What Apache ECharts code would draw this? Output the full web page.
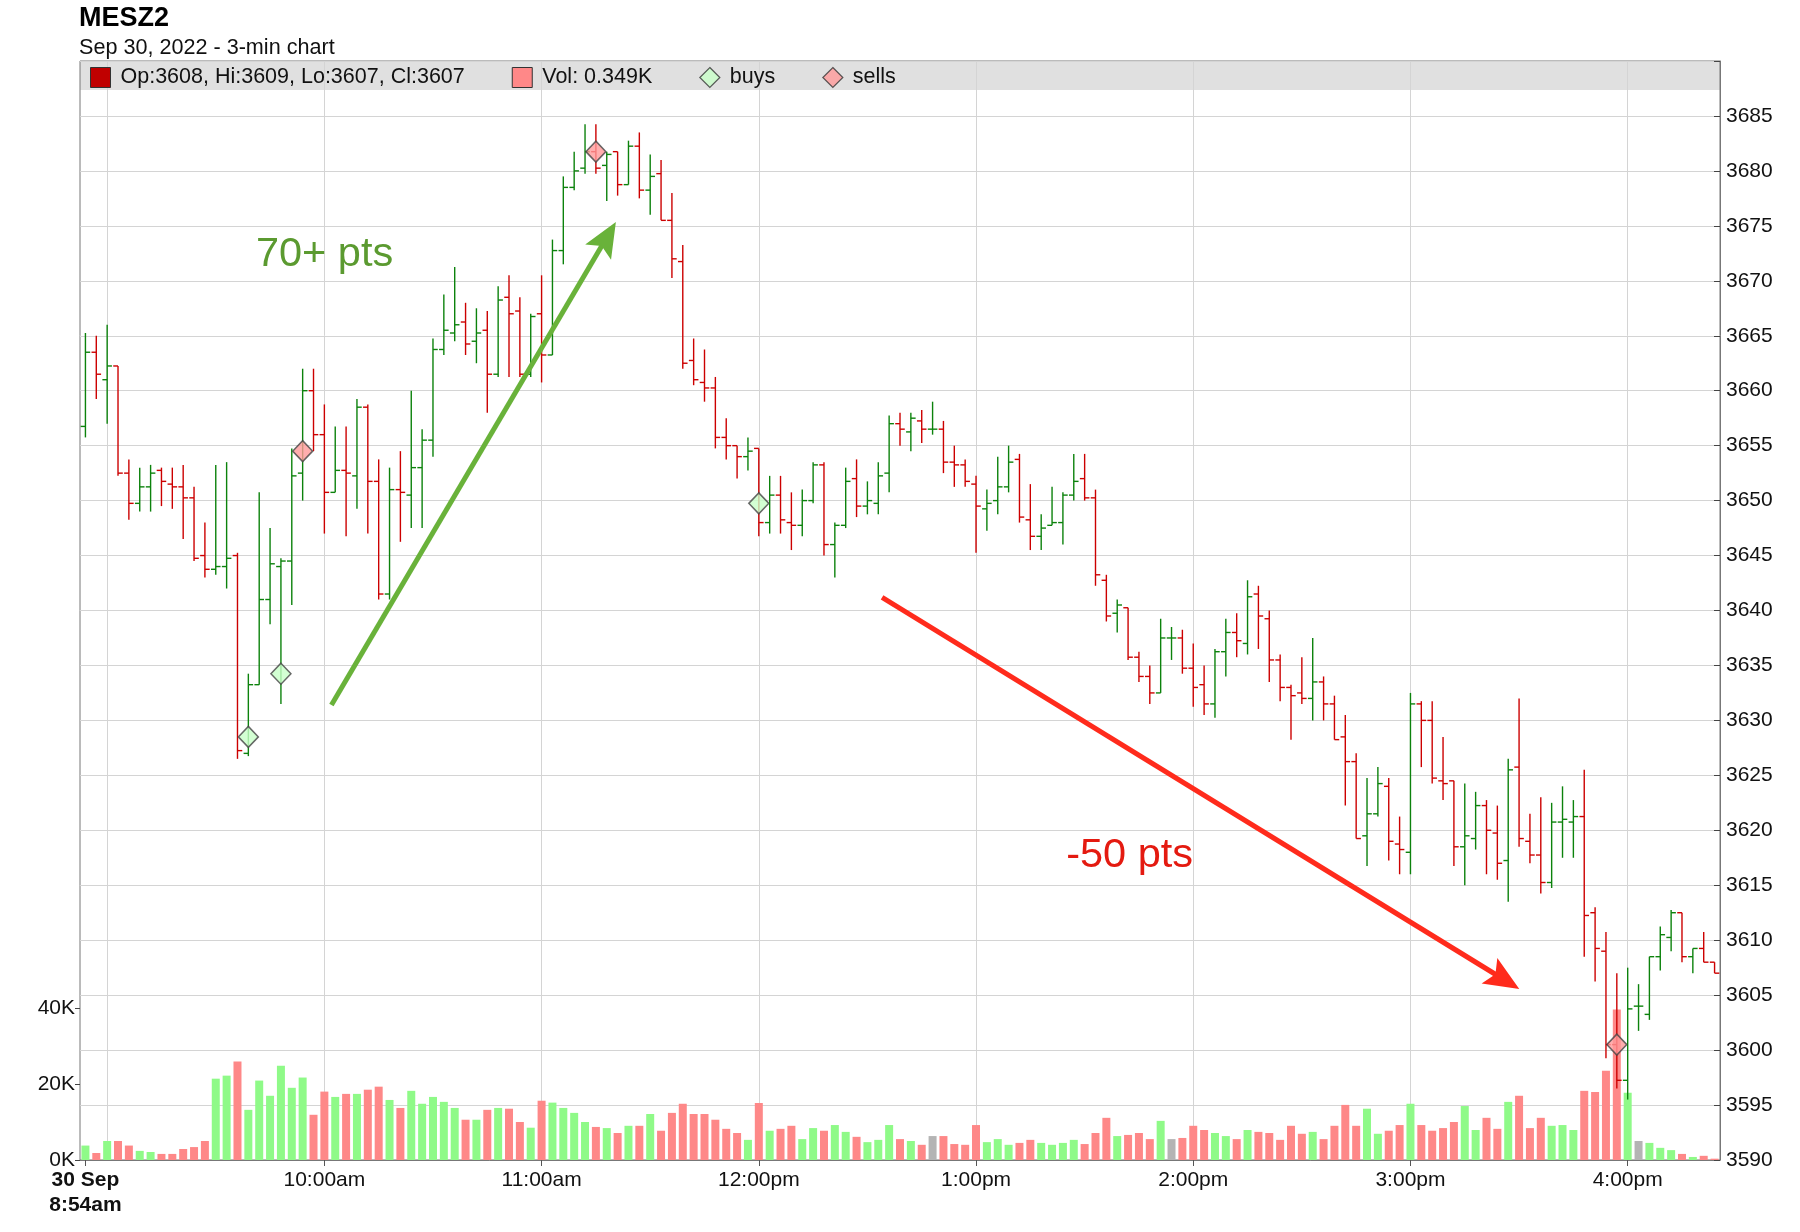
<!DOCTYPE html>
<html>
<head>
<meta charset="utf-8">
<script src="https://cdn.jsdelivr.net/npm/echarts@6/dist/echarts.min.js"></script>
<style>
html,body{margin:0;padding:0;background:#fff;}
#chart{width:1800px;height:1232px;}
</style>
</head>
<body>
<div id="chart"></div>
<script>
// ---------- DATA ----------
const sessionStart = '08:54';
const barMinutes = 3;
const barCount = 151;

const openPrices = [
3656.75,3663.5,3661,3662.25,3652.5,3649.75,3651.25,3652.75,3651.5,3651.25,
3650.25,3645,3643.75,3644,3645,3627,3633.25,3641,3644,3644.5,
3652.5,3660,3656,3650.75,3652.75,3652.25,3658.5,3651.75,3641.5,3651,
3650.5,3653,3655.5,3663.75,3665.25,3666.25,3664.5,3665.5,3661.5,3668.5,
3667.25,3661.5,3667,3663.25,3672.75,3678.5,3680.25,3681.75,3680.5,3681.75,
3678.75,3682.25,3678.25,3679.75,3675.5,3671.75,3662.75,3660.75,3660.25,3655.75,
3655,3654,3654.75,3648,3650.5,3648,3647.75,3650,3653.25,3646,
3647.75,3652,3649.5,3649.75,3652.5,3657,3656.25,3657.25,3656.5,3656.5,
3653.5,3653.25,3651.5,3649.25,3650,3651.25,3653.75,3648.25,3646.75,3647.75,
3648,3650.5,3652,3650.25,3642.75,3639.75,3640.25,3635.75,3634,3632.5,
3637.5,3637.5,3634.75,3633.25,3631.5,3636.25,3638,3637,3641.5,3639.25,
3635.5,3633,3632.5,3632,3633.5,3631.5,3628.5,3626.25,3619.5,3621.5,
3624,3618.75,3618,3631.5,3630,3624.5,3624.5,3618.5,3619.25,3622.25,
3619.75,3617.25,3625.75,3619,3617.75,3615.25,3620.75,3620.75,3621.25,3612.5,
3609,3600.5,3597.25,3604,3603.25,3608.5,3610.25,3612.5,3608.5,3609.25,
3608];

const highPrices = [
3665.25,3665,3666,3662.25,3653.75,3653,3653.25,3653,3653,3653.25,
3651.25,3648,3653.25,3653.5,3645.25,3634.25,3650.75,3647.5,3644.75,3654.75,
3662,3662,3658.75,3656.75,3656.75,3659.25,3658.75,3653.75,3653,3654.5,
3660,3656.5,3664.75,3668.75,3671.25,3668,3667.5,3667.25,3669.5,3670.5,
3668.5,3667,3670.5,3673.75,3679.5,3681.75,3684.25,3684.25,3681.75,3681.75,
3682.75,3683.5,3681.5,3681,3678,3673.25,3664.75,3663.75,3661.25,3657.5,
3655,3655.75,3654.75,3652.25,3652.25,3650.75,3651,3653.5,3653.5,3648,
3653,3653.75,3651.75,3653.5,3657.75,3658,3658,3658.25,3659,3657.25,
3655,3653.75,3652.25,3651,3654,3655,3654.25,3651.5,3648.75,3651.25,
3650.75,3654.25,3654.25,3651,3643.25,3641,3640.25,3636.25,3635,3639.25,
3638.5,3638.25,3637,3635,3636.5,3639.25,3639.75,3642.75,3642.25,3640,
3636,3633.25,3635.75,3637.5,3634,3632.25,3630.5,3627,3624.75,3625.75,
3624.75,3621.25,3632.5,3631.75,3631.75,3628.5,3624.5,3624.25,3623.5,3622.75,
3622.25,3626.5,3632,3621.5,3623,3622.5,3624,3622.75,3625.5,3613,
3610.75,3607,3607.5,3606,3608.5,3611.25,3612.75,3612.5,3609.25,3610.75,
3608];

const lowPrices = [
3655.75,3659.25,3657,3652.25,3648.25,3649,3649,3649.5,3649.25,3646.5,
3644.5,3643,3643.25,3642,3626.5,3626.75,3633.25,3638.75,3631.5,3640.5,
3650,3654.5,3647,3650.75,3646.75,3649.25,3647,3641,3641,3646.25,
3647.5,3647.5,3654,3663.25,3664.5,3663.25,3662.5,3658,3661.25,3661.25,
3661.25,3661.25,3660.75,3663.25,3671.5,3678.25,3679.75,3679.75,3677.25,3677.75,
3678.75,3677.5,3676,3675.5,3670.25,3662,3660.5,3659,3654.75,3653.75,
3652,3652.75,3646.75,3647,3647,3645.5,3646.75,3649.75,3645,3643,
3647.5,3648.5,3648.75,3648.75,3650.75,3655,3654.5,3655.25,3656,3652.5,
3651.25,3651.25,3645.25,3647.25,3648.75,3650.75,3648,3645.5,3645.5,3647.75,
3646,3650,3650,3642.25,3639,3638,3635.5,3633.5,3631.5,3632.5,
3635.5,3634.25,3631.25,3630.5,3630.25,3634,3635.75,3636,3636.5,3633.5,
3631.75,3628.25,3631.5,3630,3630,3628.25,3622.25,3619.25,3616.75,3621.25,
3617.25,3616,3616,3625.75,3624.25,3622.75,3616.75,3615,3618.25,3616,
3615.5,3613.5,3618.5,3617,3614.25,3614.75,3617.5,3617.5,3608.5,3606.25,
3599.25,3596.5,3595.5,3601.75,3602.75,3607.25,3609,3608,3607,3608,
3607];

const closePrices = [
3663.5,3661.5,3662.25,3652.5,3649.75,3651.25,3652.5,3651.75,3651.25,3650.25,
3644.75,3643.75,3644,3644.75,3627.25,3633.25,3641,3644.25,3644.5,3652.25,
3660,3656,3650.75,3652.75,3652.5,3658.5,3651.75,3641.5,3651,3650.75,
3653,3655.5,3663.75,3665.5,3666,3664.25,3665.25,3661.5,3668.25,3667,
3661.5,3666.75,3663.25,3672.75,3678.5,3680,3681.75,3680.25,3681.5,3678.75,
3682.25,3678.25,3679.5,3675.5,3672,3662.5,3661,3660.25,3655.75,3655,
3654,3654.5,3648,3650.5,3648.25,3647.75,3650,3653.25,3646,3647.75,
3651.75,3649.5,3650,3652.25,3657,3656.5,3657.5,3656.5,3656.5,3653.5,
3653.25,3651.75,3649.5,3649.75,3651.25,3653.5,3648.5,3646.75,3647.5,3648,
3650.5,3651.75,3650.25,3643.25,3639.5,3640.5,3635.75,3634,3632.5,3637.5,
3637.5,3634.75,3633,3631.5,3636.25,3638,3637.25,3641.25,3639.5,3635.5,
3633,3632.25,3632,3633.5,3631.5,3628.25,3626.25,3619.25,3621.5,3624.25,
3619,3618.25,3631.5,3630,3624.75,3624.25,3618.5,3619.5,3622.25,3620,
3617,3625.5,3619.25,3617.75,3615.25,3620.75,3621,3621.25,3612.25,3609.25,
3600.5,3597.25,3603.75,3604,3608.5,3610.5,3612.5,3608.5,3609.25,3608,
3607];

// volume in thousands of contracts
const volumeK = [
3.8,1.85,5.0,5.0,3.8,2.4,2.1,1.6,1.6,2.9,3.4,5.0,21.4,22.2,25.9,13.2,20.9,16.9,24.8,19.0,
21.7,11.9,18.0,16.6,17.4,17.4,18.5,19.3,15.8,13.7,18.2,14.8,16.6,15.3,13.7,10.6,10.6,13.2,13.7,13.5,
10.0,8.5,15.6,15.1,13.7,12.4,10.0,8.7,8.4,7.1,9.0,9.0,12.1,7.7,12.4,14.8,12.1,12.1,10.6,8.2,
7.1,5.3,15.0,7.7,8.2,9.0,5.5,8.4,7.7,9.2,7.4,6.1,4.7,5.3,9.2,5.5,5.0,4.0,6.3,6.3,
4.2,4.0,9.2,4.7,5.5,4.0,4.5,5.3,4.5,4.0,4.5,5.3,4.2,7.1,11.1,6.3,6.6,7.1,5.5,10.3,
5.5,5.8,9.0,7.9,7.1,6.3,5.5,7.9,7.4,7.1,5.3,9.0,6.9,7.4,5.5,9.0,14.5,9.0,13.5,6.9,
7.7,9.2,14.8,9.2,7.7,8.4,10.0,14.2,7.9,11.1,8.2,15.3,16.9,8.4,11.1,9.0,9.2,7.9,18.2,17.9,
23.5,39.6,17.7,5.0,4.5,3.2,2.6,1.6,0.8,1.1,0.349];

// trade markers: [bar index, price]
const buys = [[15, 3628.5], [18, 3634.25], [62, 3649.75]];
const sells = [[20, 3654.5], [47, 3681.75], [141, 3600.5]];

// axis labels
const labelTimes = ['08:54','10:00','11:00','12:00','13:00','14:00','15:00','16:00'];
const labelTexts = ['{b|30 Sep}\n{b|8:54am}','10:00am','11:00am','12:00pm','1:00pm','2:00pm','3:00pm','4:00pm'];
const gridTimes = ['09:00','10:00','11:00','12:00','13:00','14:00','15:00','16:00'];

const titleText = 'MESZ2';
const subtitleText = 'Sep 30, 2022 - 3-min chart';
const legendNames = ['Op:3608, Hi:3609, Lo:3607, Cl:3607', 'Vol: 0.349K', 'buys', 'sells'];

// annotations (data coordinates: bar index, price)
const arrowFrom = [[22.65, 3631.4], [73.35, 3641.2]];
const arrowTo = [[48.84, 3675.36], [132.02, 3605.56]];
const noteTexts = ['70+ pts', '-50 pts'];
const noteAt = [[15.7, 3672.4], [90.3, 3617.7]];

// ---------- STYLE ----------
const FONT = '"Liberation Sans", Arial, Helvetica, sans-serif';
const UP = '#0c820c', DOWN = '#cc0000';
const VOL_UP = '#8ffa88', VOL_DOWN = '#fe8888', VOL_FLAT = '#b4b4b4';
const arrowColors = ['#69b23a', '#ff2b1c'];
const noteColors = ['#5b9a30', '#e41a10'];

// ---------- BUILD ----------
function hhmm(mins){ const h = Math.floor(mins/60), m = mins%60; return String(h).padStart(2,'0')+':'+String(m).padStart(2,'0'); }
const startMin = parseInt(sessionStart.slice(0,2))*60 + parseInt(sessionStart.slice(3));
const times = [];
for (let i = 0; i < barCount; i++) times.push(hhmm(startMin + barMinutes*i));

const ohlc = times.map((t, i) => [i, openPrices[i], highPrices[i], lowPrices[i], closePrices[i]]);
const volData = volumeK.map((v, i) => {
  const o = openPrices[i], c = closePrices[i];
  const col = c > o ? VOL_UP : (c < o ? VOL_DOWN : VOL_FLAT);
  return { value: v, itemStyle: { color: col } };
});
const labelMap = {};
labelTimes.forEach((t, i) => labelMap[t] = labelTexts[i]);
const isLabel = (idx, val) => labelMap[val] !== undefined;
const isGrid = (idx, val) => gridTimes.indexOf(val) >= 0;

const chart = echarts.init(document.getElementById('chart'), null, { renderer: 'canvas' });

const option = {
  animation: false,
  backgroundColor: '#ffffff',
  textStyle: { fontFamily: FONT },
  title: {
    text: titleText,
    subtext: subtitleText,
    left: 79, top: 5.5, padding: 0, itemGap: 5,
    textStyle: { fontFamily: FONT, fontSize: 27, fontWeight: 'bold', color: '#000' },
    subtextStyle: { fontFamily: FONT, fontSize: 21.6, color: '#111' }
  },
  legend: {
    left: 90, top: 66.5, padding: 0,
    itemWidth: 20, itemHeight: 20, itemGap: 47,
    selectedMode: false,
    textStyle: { fontFamily: FONT, fontSize: 21.5, color: '#111', padding: [0, 0, 0, 5] },
    data: [
      { name: legendNames[0], icon: 'rect', itemStyle: { color: '#c00000', borderColor: '#333', borderWidth: 1 } },
      { name: legendNames[1], icon: 'rect', itemStyle: { color: '#ff8888', borderColor: '#333', borderWidth: 1 } },
      { name: legendNames[2], icon: 'diamond', itemStyle: { color: '#c8ffc8', borderColor: '#333', borderWidth: 1.2 } },
      { name: legendNames[3], icon: 'diamond', itemStyle: { color: '#ff9a9a', borderColor: '#333', borderWidth: 1.2 } }
    ]
  },
  graphic: [
    { type: 'rect', z: -1, shape: { x: 80, y: 61, width: 1640, height: 29 }, style: { fill: '#e0e0e0' } }
  ],
  grid: [
    { left: 80, right: 80, top: 61, bottom: 72, show: true, borderColor: '#777', borderWidth: 1, backgroundColor: 'transparent' },
    { left: 80, right: 80, top: 1008, bottom: 72 }
  ],
  xAxis: [
    {
      type: 'category', gridIndex: 0, data: times, boundaryGap: true,
      axisLine: { show: true, onZero: false, lineStyle: { color: '#777', width: 1 } },
      axisTick: { show: true, interval: isLabel, alignWithLabel: true, length: 6, lineStyle: { color: '#555' } },
      axisLabel: {
        show: true, interval: isLabel, margin: 8, fontSize: 21, color: '#111', lineHeight: 25,
        formatter: v => labelMap[v] || '',
        rich: { b: { fontFamily: FONT, fontSize: 21, fontWeight: 'bold', color: '#111', lineHeight: 25 } }
      },
      splitLine: { show: true, interval: isGrid, alignWithLabel: true, lineStyle: { color: '#d4d4d4', width: 1 } }
    },
    { type: 'category', gridIndex: 1, data: times, boundaryGap: true, show: false, axisLine: { onZero: false } },
    { type: 'value', gridIndex: 0, min: -0.5, max: barCount - 0.5, show: false, axisLine: { onZero: false } }
  ],
  yAxis: [
    {
      type: 'value', gridIndex: 0, position: 'right', min: 3590, max: 3690, interval: 5,
      axisLine: { show: true, onZero: false, lineStyle: { color: '#777' } },
      axisTick: { show: true, inside: true, length: 6, lineStyle: { color: '#444' } },
      axisLabel: { fontSize: 21, color: '#111', margin: 6, formatter: v => (v >= 3690 ? '' : String(v)) },
      splitLine: { show: true, lineStyle: { color: '#d4d4d4', width: 1 } }
    },
    {
      type: 'value', gridIndex: 1, position: 'left', min: 0, max: 40, interval: 20,
      axisLine: { show: false, onZero: false },
      axisTick: { show: true, inside: false, length: 5, lineStyle: { color: '#444' } },
      axisLabel: { fontSize: 21, color: '#111', margin: 5, formatter: v => v + 'K' },
      splitLine: { show: false }
    }
  ],
  series: [
    {
      name: legendNames[1], type: 'bar', xAxisIndex: 1, yAxisIndex: 1,
      data: volData, barWidth: 8, z: 1, silent: true,
      itemStyle: { color: '#ff8888' }
    },
    {
      name: legendNames[0], type: 'custom', xAxisIndex: 0, yAxisIndex: 0, z: 2, silent: true,
      itemStyle: { color: '#c00000' },
      encode: { x: 0, y: [1, 2, 3, 4] },
      data: ohlc,
      renderItem: function (params, api) {
        const idx = api.value(0);
        const o = api.value(1), h = api.value(2), l = api.value(3), c = api.value(4);
        const pH = api.coord([idx, h]), pL = api.coord([idx, l]);
        const pO = api.coord([idx, o]), pC = api.coord([idx, c]);
        const w = api.size([1, 0])[0] * 0.44;
        const col = c >= o ? UP : DOWN;
        const x = pH[0];
        const st = { stroke: col, lineWidth: 1.4 };
        return {
          type: 'group', children: [
            { type: 'line', shape: { x1: x, y1: pH[1], x2: x, y2: pL[1] }, style: st },
            { type: 'line', shape: { x1: x - w, y1: pO[1], x2: x, y2: pO[1] }, style: st },
            { type: 'line', shape: { x1: x, y1: pC[1], x2: x + w, y2: pC[1] }, style: st }
          ]
        };
      }
    },
    {
      name: legendNames[2], type: 'scatter', xAxisIndex: 0, yAxisIndex: 0, z: 3, silent: true,
      symbol: 'diamond', symbolSize: [20, 21],
      itemStyle: { color: '#c8ffc8', borderColor: '#444', borderWidth: 1.5 },
      data: buys
    },
    {
      name: legendNames[3], type: 'scatter', xAxisIndex: 0, yAxisIndex: 0, z: 3, silent: true,
      symbol: 'diamond', symbolSize: [20, 21],
      itemStyle: { color: '#ff9a9a', borderColor: '#444', borderWidth: 1.5 },
      data: sells
    },
    {
      name: 'arrows', type: 'custom', xAxisIndex: 2, yAxisIndex: 0, z: 4, silent: true,
      data: arrowFrom.map((f, i) => [f[0], f[1], arrowTo[i][0], arrowTo[i][1]]),
      encode: { x: [0, 2], y: [1, 3] },
      renderItem: function (params, api) {
        const p1 = api.coord([api.value(0), api.value(1)]);
        const p2 = api.coord([api.value(2), api.value(3)]);
        const col = arrowColors[params.dataIndex];
        const dx = p2[0] - p1[0], dy = p2[1] - p1[1];
        const len = Math.sqrt(dx * dx + dy * dy);
        const ux = dx / len, uy = dy / len, nx = -uy, ny = ux;
        const L = 35, W = 30;
        const bx = p2[0] - ux * L, by = p2[1] - uy * L;
        return {
          type: 'group', children: [
            { type: 'line', shape: { x1: p1[0], y1: p1[1], x2: p2[0] - ux * L * 0.6, y2: p2[1] - uy * L * 0.6 },
              style: { stroke: col, lineWidth: 5 } },
            { type: 'polygon', shape: { points: [
                [p2[0], p2[1]],
                [bx + nx * W / 2, by + ny * W / 2],
                [p2[0] - ux * L * 0.8, p2[1] - uy * L * 0.8],
                [bx - nx * W / 2, by - ny * W / 2]
              ] }, style: { fill: col } }
          ]
        };
      }
    },
    {
      name: 'notes', type: 'custom', xAxisIndex: 2, yAxisIndex: 0, z: 4, silent: true,
      data: noteAt,
      renderItem: function (params, api) {
        const p = api.coord([api.value(0), api.value(1)]);
        return {
          type: 'text',
          style: {
            text: noteTexts[params.dataIndex], x: p[0], y: p[1],
            fill: noteColors[params.dataIndex],
            fontSize: 41.5, fontFamily: FONT,
            align: 'left', verticalAlign: 'middle'
          }
        };
      }
    }
  ]
};
chart.setOption(option);
</script>
</body>
</html>
